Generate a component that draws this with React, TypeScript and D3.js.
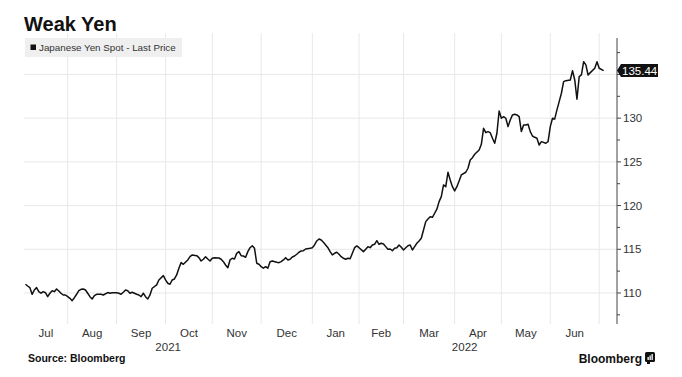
import React from "react";
import * as d3 from "d3";

// Trading-day index (weekdays counted from 1 Jul 2021 = 0) and USD/JPY close
const tradingDays = [
  3, 4, 5, 6, 7, 8, 9, 10, 11, 12, 13, 14, 15, 16, 17, 18, 19, 20, 21, 22, 23, 24, 25, 26, 27, 28, 29, 30, 31, 32, 33, 34, 35, 37, 38, 40, 41, 42, 44, 45,
  46, 47, 48, 49, 50, 51, 53, 54, 55, 56, 57, 58, 59, 60, 62, 63, 65, 66, 67, 68, 69, 70, 71, 72, 73, 74, 76, 77, 78, 80, 81, 82, 83, 84, 85, 86, 87, 88, 90, 91,
  92, 93, 94, 95, 96, 97, 98, 99, 100, 101, 102, 103, 104, 105, 106, 107, 108, 109, 110, 111, 112, 113, 114, 116, 117, 118, 119, 120, 121, 122, 123, 124, 125, 126, 127, 128, 129, 131, 132, 133,
  134, 135, 136, 137, 138, 139, 140, 141, 142, 143, 144, 145, 146, 147, 148, 149, 150, 151, 152, 153, 155, 156, 157, 158, 159, 160, 161, 162, 163, 164, 165, 166, 167, 168, 169, 170, 171, 172, 173, 174,
  175, 176, 177, 178, 179, 180, 181, 182, 183, 184, 185, 186, 187, 188, 189, 190, 191, 192, 193, 194, 195, 196, 197, 198, 199, 201, 202, 203, 204, 205, 207, 208, 209, 210, 211, 212, 213, 214, 215, 216,
  217, 218, 219, 220, 221, 222, 223, 224, 225, 226, 227, 228, 229, 230, 231, 232, 233, 234, 235, 237, 238, 239, 240, 241, 242, 243, 244, 245, 246, 248, 249, 250, 251, 252, 253, 254, 255, 256, 257, 259,
  260, 261, 263,
];
const usdJpy = [
  111.0, 110.8, 110.61, 109.85, 110.34, 110.61, 110.15, 109.97, 110.15, 110.03, 109.58, 109.97, 110.26, 110.15, 110.46, 110.23, 109.97, 109.77, 109.77, 109.58,
  109.39, 109.12, 109.46, 109.85, 110.26, 110.42, 110.46, 110.34, 109.97, 109.58, 109.31, 109.69, 109.85, 109.85, 109.77, 110.05, 109.97, 110.03, 110.03, 109.97,
  109.85, 110.08, 110.34, 110.26, 109.97, 110.08, 109.85, 109.77, 109.58, 109.97, 109.58, 109.31, 109.77, 110.54, 110.92, 111.49, 111.98, 111.49, 111.11, 111.0,
  111.49, 111.6, 112.06, 112.83, 113.47, 113.28, 113.78, 114.15, 114.35, 114.27, 114.04, 113.66, 113.86, 114.15, 113.89, 113.66, 113.97, 114.04, 114.0, 113.86,
  113.58, 113.2, 112.89, 113.78, 113.97, 113.89, 114.54, 114.73, 114.27, 114.23, 114.08, 114.73, 115.18, 115.41, 115.11, 113.4, 113.28, 113.01, 112.83, 113.01,
  112.83, 113.58, 113.66, 113.51, 113.47, 113.58, 113.78, 114.04, 113.78, 113.86, 114.12, 114.23, 114.43, 114.66, 114.81, 114.84, 115.03, 115.11, 115.18, 115.49,
  115.95, 116.18, 116.06, 115.8, 115.49, 115.18, 114.73, 114.35, 114.54, 114.66, 114.43, 114.15, 113.97, 113.86, 113.97, 113.92, 114.54, 115.18, 115.38, 115.18,
  114.73, 115.0, 115.3, 115.18, 115.49, 115.57, 115.98, 115.57, 115.69, 115.61, 115.3, 115.0, 115.03, 114.84, 115.11, 115.18, 115.49, 115.23, 114.92, 115.18,
  115.41, 115.49, 114.92, 115.3, 115.69, 115.95, 116.26, 117.21, 118.16, 118.47, 118.73, 118.66, 119.12, 119.58, 120.45, 121.02, 122.36, 122.16, 123.81, 122.93,
  122.16, 121.67, 122.16, 122.81, 123.5, 123.81, 124.27, 125.22, 125.48, 125.87, 126.36, 127.01, 128.84, 128.34, 128.46, 128.34, 127.7, 127.13, 128.27, 130.82,
  129.99, 130.17, 129.99, 129.03, 129.79, 130.37, 130.45, 130.37, 130.17, 128.46, 129.22, 129.22, 129.3, 128.46, 127.96, 127.81, 127.7, 126.93, 127.31, 127.13,
  127.31, 129.03, 129.99, 129.91, 130.94, 131.89, 132.85, 134.18, 134.29, 134.37, 135.43, 134.37, 132.16, 134.75, 134.94, 136.46, 136.09, 134.94, 135.21, 135.71,
  136.46, 135.71, 135.44,
];

const yGridValues = [110, 115, 120, 125, 130, 135];
const yTickLabels = [110, 115, 120, 125, 130];
const yMinorTicks = [107.5, 112.5, 117.5, 122.5, 127.5, 132.5, 137.5];
const monthStarts = [
  "2021-07-01", "2021-08-01", "2021-09-01", "2021-10-01", "2021-11-01", "2021-12-01", "2022-01-01",
  "2022-02-01", "2022-03-01", "2022-04-01", "2022-05-01", "2022-06-01", "2022-07-01", "2022-08-01",
];
const monthLabels = ["Jul", "Aug", "Sep", "Oct", "Nov", "Dec", "Jan", "Feb", "Mar", "Apr", "May", "Jun", "Jul", "Aug"];
const yearLabels = [
  { label: "2021", from: "2021-07-01", to: "2022-01-01" },
  { label: "2022", from: "2022-01-01", to: "2023-01-01" },
];
const lastPrice = 135.44;
const title = "Weak Yen";
const legendLabel = "Japanese Yen Spot - Last Price";
const sourceLabel = "Source: Bloomberg";

const W = 682;
const H = 377;
const PL = 24;
const PR = 617;
const PT = 38;
const PB = 324;

const origin = new Date(2021, 6, 1);
function parseDate(s: string) {
  const [y, m, d] = s.split("-").map(Number);
  return new Date(y, m - 1, d);
}
function tradingIndex(s: string) {
  const target = parseDate(s);
  let n = 0;
  const d = new Date(origin);
  while (d < target) {
    const wd = d.getDay();
    if (wd !== 0 && wd !== 6) n++;
    d.setDate(d.getDate() + 1);
  }
  return n;
}

const FONT = "'Liberation Sans', Arial, sans-serif";

export default function App() {
  const x = d3.scaleLinear().domain([2.35, 269]).range([PL, PR]);
  const y = d3.scaleLinear().domain([106.45, 139.17]).range([PB, PT]);

  const points: [number, number][] = tradingDays.map((t, i) => [t, usdJpy[i]]);
  const line = d3
    .line<[number, number]>()
    .x((d) => x(d[0]))
    .y((d) => y(d[1]));

  const monthX = monthStarts.map((m) => x(tradingIndex(m)));
  const gridX = monthX.filter((v, i) => i > 0 && v > PL && v < PR);

  const monthText = monthLabels
    .map((lab, i) => {
      if (i >= monthX.length - 1) return null;
      const a = Math.max(PL, monthX[i]);
      const b = Math.min(PR, monthX[i + 1]);
      if (b - a < 30) return null;
      return { lab, cx: (a + b) / 2, key: i };
    })
    .filter(Boolean) as { lab: string; cx: number; key: number }[];

  const yearText = yearLabels.map((yl) => {
    const a = Math.max(PL, x(tradingIndex(yl.from)));
    const b = Math.min(PR, x(tradingIndex(yl.to)));
    return { lab: yl.label, cx: (a + b) / 2 };
  });

  const ly = y(lastPrice);

  return (
    <svg
      width={W}
      height={H}
      style={{ position: "absolute", left: 0, top: 0, background: "#fff" }}
      fontFamily={FONT}
    >
      <rect x={0} y={0} width={W} height={H} fill="#fff" />
      {/* grid */}
      {gridX.map((gx, i) => (
        <line key={"gx" + i} x1={gx} x2={gx} y1={33} y2={PB} stroke="#e8e8e8" strokeWidth={1} />
      ))}
      {yGridValues.map((v) => (
        <line key={"gy" + v} x1={PL} x2={PR} y1={y(v)} y2={y(v)} stroke="#e8e8e8" strokeWidth={1} />
      ))}

      {/* title */}
      <text x={24} y={31} fontSize={20} fontWeight="bold" fill="#111">
        {title}
      </text>

      {/* legend */}
      <rect x={25} y={38} width={157} height={19} fill="#efefef" />
      <rect x={30.5} y={44.5} width={5.5} height={5.5} fill="#111" />
      <text x={39} y={51} fontSize={9.8} fill="#333">
        {legendLabel}
      </text>

      {/* data line */}
      <path d={line(points) || ""} fill="none" stroke="#111" strokeWidth={1.5} strokeLinejoin="round" />

      {/* right axis */}
      <line x1={PR} x2={PR} y1={PT} y2={PB} stroke="#444" strokeWidth={1} />
      {yGridValues.map((v) => (
        <line key={"tk" + v} x1={PR} x2={PR + 4} y1={y(v)} y2={y(v)} stroke="#444" />
      ))}
      {yMinorTicks.map((v) => (
        <line key={"mt" + v} x1={PR} x2={PR + 3} y1={y(v)} y2={y(v)} stroke="#444" />
      ))}
      {yTickLabels.map((v) => (
        <text key={"tl" + v} x={PR + 6} y={y(v) + 4} fontSize={11.5} fill="#333">
          {v}
        </text>
      ))}

      {/* last price badge */}
      <path
        d={`M${PR},${ly} L${PR + 4},${ly - 6.5} L${658},${ly - 6.5} L${658},${ly + 6.5} L${PR + 4},${ly + 6.5} Z`}
        fill="#111"
      />
      <text x={PR + 5} y={ly + 4} fontSize={11.5} fill="#fff">
        {lastPrice.toFixed(2)}
      </text>

      {/* month labels */}
      {monthText.map((m) => (
        <text key={"m" + m.key} x={m.cx} y={337} fontSize={11.5} fill="#333" textAnchor="middle">
          {m.lab}
        </text>
      ))}
      {yearText.map((t) => (
        <text key={"y" + t.lab} x={t.cx} y={351} fontSize={11.5} fill="#333" textAnchor="middle">
          {t.lab}
        </text>
      ))}

      {/* footer */}
      <text x={28} y={362} fontSize={10.5} fontWeight="bold" fill="#111">
        {sourceLabel}
      </text>
      <text x={642} y={363} fontSize={12} fontWeight="bold" fill="#111" textAnchor="end">
        Bloomberg
      </text>
      <g transform="translate(645,352)">
        <rect x={0} y={0} width={10} height={10} rx={1.5} fill="#111" />
        <rect x={2.5} y={5} width={1.3} height={3} fill="#fff" />
        <rect x={4.5} y={3.5} width={1.3} height={4.5} fill="#fff" />
        <rect x={6.5} y={2} width={1.3} height={6} fill="#fff" />
        <rect x={2} y={10} width={3} height={2} fill="#111" />
      </g>
    </svg>
  );
}
